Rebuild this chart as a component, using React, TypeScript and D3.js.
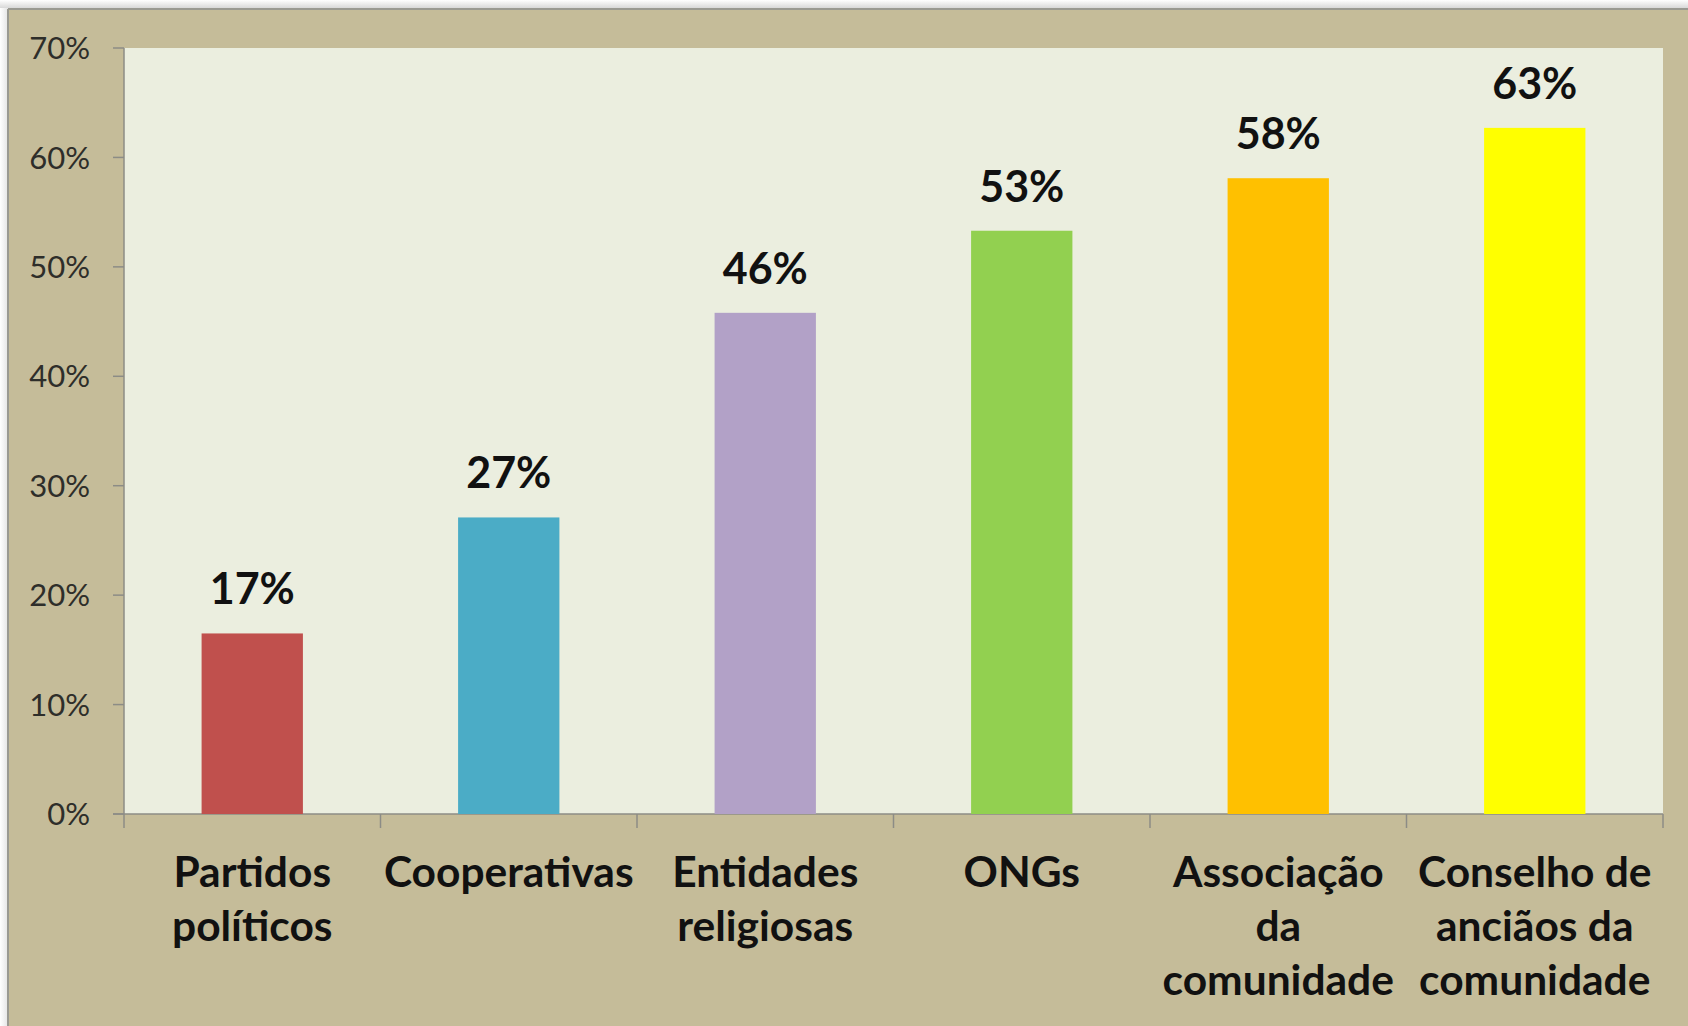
import React from "react";
import * as d3 from "d3";

const categories: string[][] = [
  ["Partidos", "políticos"],
  ["Cooperativas"],
  ["Entidades", "religiosas"],
  ["ONGs"],
  ["Associação", "da", "comunidade"],
  ["Conselho de", "anciãos da", "comunidade"],
];
const values: number[] = [0.165, 0.271, 0.458, 0.533, 0.581, 0.627];
const valueLabels: string[] = ["17%", "27%", "46%", "53%", "58%", "63%"];
const barColors: string[] = ["#C0504D", "#4BACC6", "#B2A1C7", "#92D050", "#FFC000", "#FFFF00"];
const yTicks: number[] = [0, 0.1, 0.2, 0.3, 0.4, 0.5, 0.6, 0.7];

const W = 1688;
const H = 1026;
const plot = { left: 124, right: 1663, top: 48, bottom: 814 };

export default function App() {
  const keys = categories.map((_, i) => String(i));
  const x = d3.scaleBand<string>().domain(keys).range([plot.left, plot.right]).paddingInner(0.605).paddingOuter(0.3025);
  const xOuter = d3.scaleBand<string>().domain(keys).range([plot.left, plot.right]);
  const y = d3.scaleLinear().domain([0, 0.7]).range([plot.bottom, plot.top]);
  const fmt = d3.format(".0%");
  const labelFont = "Lato, 'Open Sans', sans-serif";

  return (
    <div style={{ position: "absolute", left: 0, top: 0, width: W, height: H, background: "#fff" }}>
      <svg width={W} height={H} style={{ display: "block" }}>
        <defs>
          <linearGradient id="leftShade" x1="0" x2="1" y1="0" y2="0">
            <stop offset="0" stopColor="#ffffff" />
            <stop offset="1" stopColor="#e4e4e4" />
          </linearGradient>
          <linearGradient id="topShade" x1="0" x2="0" y1="0" y2="1">
            <stop offset="0" stopColor="#ffffff" />
            <stop offset="1" stopColor="#d8d8d8" />
          </linearGradient>
        </defs>
        <rect x={0} y={0} width={W} height={H} fill="#ffffff" />
        <rect x={0} y={0} width={8} height={H} fill="url(#leftShade)" />
        <rect x={0} y={0} width={W} height={8} fill="url(#topShade)" />
        <rect x={8} y={9} width={W - 8} height={H - 9} fill="#C5BC99" />
        <line x1={8} x2={W} y1={9} y2={9} stroke="#9a9a92" strokeWidth={2} />
        <line x1={8} x2={8} y1={9} y2={H} stroke="#9a9a92" strokeWidth={2} />
        <rect x={plot.left} y={plot.top} width={plot.right - plot.left} height={plot.bottom - plot.top} fill="#EBEEDF" />

        {/* y axis */}
        <line x1={plot.left} x2={plot.left} y1={plot.top} y2={plot.bottom} stroke="#8c8c86" strokeWidth={1.5} />
        {yTicks.map((t) => (
          <g key={t}>
            <line x1={plot.left - 11} x2={plot.left} y1={y(t)} y2={y(t)} stroke="#8c8c86" strokeWidth={1.5} />
            <text x={90} y={y(t)} dy="0.36em" textAnchor="end" fontFamily={labelFont} fontSize={31} fill="#2e2e2a">
              {fmt(t)}
            </text>
          </g>
        ))}

        {/* x axis */}
        <line x1={plot.left - 11} x2={plot.right} y1={plot.bottom} y2={plot.bottom} stroke="#8c8c86" strokeWidth={1.5} />
        {keys.map((k) => (
          <line key={"t" + k} x1={xOuter(k)!} x2={xOuter(k)!} y1={plot.bottom} y2={plot.bottom + 14} stroke="#8c8c86" strokeWidth={1.5} />
        ))}
        <line x1={plot.right} x2={plot.right} y1={plot.bottom} y2={plot.bottom + 14} stroke="#8c8c86" strokeWidth={1.5} />

        {/* bars */}
        {values.map((v, i) => (
          <rect key={"b" + i} x={x(keys[i])!} y={y(v)} width={x.bandwidth()} height={y(0) - y(v)} fill={barColors[i]} />
        ))}

        {/* value labels */}
        {values.map((v, i) => (
          <text
            key={"v" + i}
            x={x(keys[i])! + x.bandwidth() / 2}
            y={y(v) - 29}
            textAnchor="middle"
            fontFamily={labelFont}
            fontWeight={700}
            fontSize={43}
            fill="#111"
          >
            {valueLabels[i]}
          </text>
        ))}

        {/* category labels */}
        {categories.map((lines, i) => (
          <text
            key={"c" + i}
            x={xOuter(keys[i])! + xOuter.bandwidth() / 2}
            y={887}
            textAnchor="middle"
            fontFamily={labelFont}
            fontWeight={700}
            fontSize={42.5}
            fill="#111"
          >
            {lines.map((ln, j) => (
              <tspan key={j} x={xOuter(keys[i])! + xOuter.bandwidth() / 2} y={887 + j * 54}>
                {ln}
              </tspan>
            ))}
          </text>
        ))}
      </svg>
    </div>
  );
}
